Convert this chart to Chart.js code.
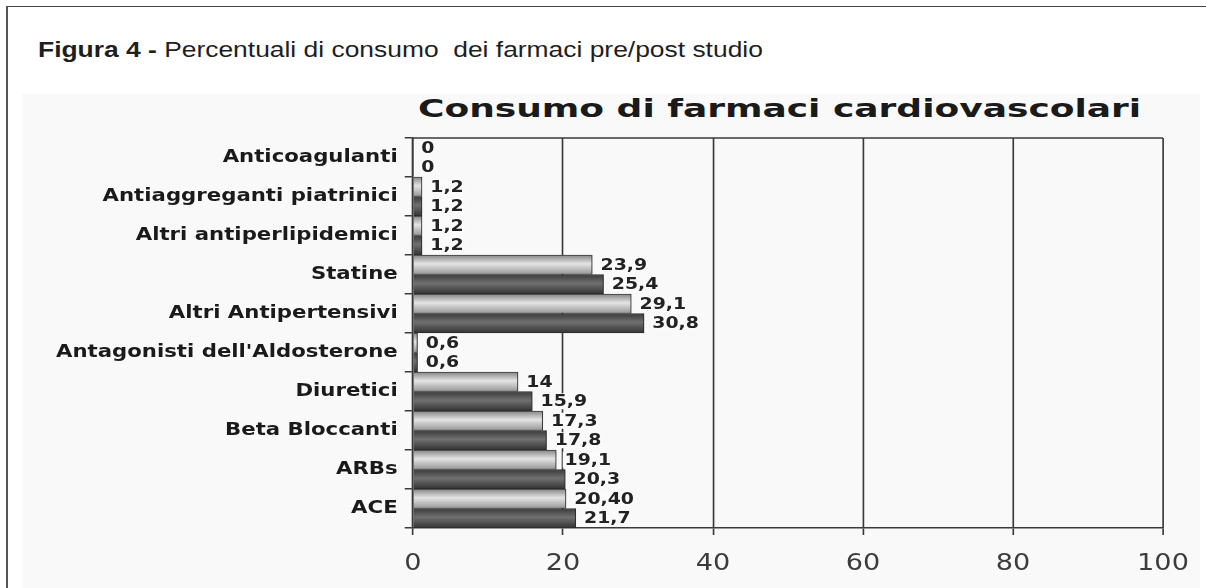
<!DOCTYPE html>
<html>
<head>
<meta charset="utf-8">
<title>Consumo di farmaci cardiovascolari</title>
<script src="https://cdn.jsdelivr.net/npm/chart.js@4.4.1/dist/chart.umd.min.js"></script>
<style>
  html, body { margin: 0; padding: 0; background: #fff; }
  body { width: 1206px; height: 588px; position: relative; overflow: hidden;
         font-family: "Liberation Sans", Arial, sans-serif; }
  #frame { position: absolute; left: 6px; top: 6px; width: 1400px; height: 800px;
           border-left: 2px solid #555; border-top: 1.5px solid #444; }
  #caption { position: absolute; left: 38px; top: 37px; font-size: 22px; color: #1e1e1e;
             white-space: pre; transform: scaleX(1.2); transform-origin: 0 0; }
  #panel { position: absolute; left: 22px; top: 94px; width: 1178px; height: 494px;
           background: #f9f9f9; }
  #title { position: absolute; left: 418px; top: 94px; font: bold 25px/1.164 "DejaVu Sans";
           color: #1a1a1a; white-space: nowrap; transform: scaleX(1.44); transform-origin: 0 0; }
  #chart { position: absolute; left: 0; top: 0; }
</style>
</head>
<body>
<div id="frame"></div>
<div id="caption"><b>Figura 4 -</b> Percentuali di consumo  dei farmaci pre/post studio</div>
<div id="panel"></div>
<div id="title">Consumo di farmaci cardiovascolari</div>
<canvas id="chart" width="1206" height="588"></canvas>
<script>
// Drug classes, listed top to bottom
const categories = [
  "Anticoagulanti",
  "Antiaggreganti piatrinici",
  "Altri antiperlipidemici",
  "Statine",
  "Altri Antipertensivi",
  "Antagonisti dell'Aldosterone",
  "Diuretici",
  "Beta Bloccanti",
  "ARBs",
  "ACE"
];
// Percentages as written on the labels (Italian decimal comma)
const preStudio  = ["0", "1,2", "1,2", "23,9", "29,1", "0,6", "14",   "17,3", "19,1", "20,40"];
const postStudio = ["0", "1,2", "1,2", "25,4", "30,8", "0,6", "15,9", "17,8", "20,3", "21,7"];
const xTicks = [0, 20, 40, 60, 80, 100];

const toNumber = s => parseFloat(s.replace(',', '.'));
const seriesText = [preStudio, postStudio];

// The whole chart is drawn with a wide horizontal stretch
const K = 1.18;
const CANVAS_W = 1206;
const PLOT_LEFT = 413, PLOT_RIGHT = 1163;

const LIGHT = [[0, '#858585'], [0.45, '#e4e4e4'], [1, '#959595']];
const DARK  = [[0, '#3a3a3a'], [0.45, '#707070'], [1, '#333333']];

// Cylinder-like vertical shading inside each bar
function barFill(stops) {
  return function (c) {
    const chart = c.chart;
    const y = chart.scales && chart.scales.y;
    if (c.type !== 'data' || !y || !y.height) return stops[1][1];
    const half = y.height / categories.length / 2;
    const center = y.getPixelForValue(c.dataIndex);
    const top = c.datasetIndex === 0 ? center - half : center;
    const g = chart.ctx.createLinearGradient(0, top, 0, top + half);
    stops.forEach(([o, col]) => g.addColorStop(o, col));
    return g;
  };
}

const stretch = {
  id: 'stretch',
  beforeDraw(chart) { chart.ctx.setTransform(K, 0, 0, 1, 0, 0); },
  afterDraw(chart) { chart.ctx.setTransform(1, 0, 0, 1, 0, 0); }
};

// Top edge of the plot frame
const plotFrame = {
  id: 'plotFrame',
  beforeDatasetsDraw(chart) {
    const { ctx, chartArea: a } = chart;
    ctx.save();
    ctx.strokeStyle = '#3a3a3a';
    ctx.lineWidth = 1.5;
    ctx.beginPath();
    ctx.moveTo(a.left, a.top);
    ctx.lineTo(a.right, a.top);
    ctx.stroke();
    ctx.restore();
  }
};

// Value labels to the right of each bar, on an opaque box
const valueLabels = {
  id: 'valueLabels',
  afterDatasetsDraw(chart) {
    const ctx = chart.ctx;
    ctx.save();
    ctx.font = 'bold 16px "DejaVu Sans"';
    ctx.textBaseline = 'middle';
    ctx.textAlign = 'left';
    chart.data.datasets.forEach((ds, di) => {
      chart.getDatasetMeta(di).data.forEach((bar, i) => {
        const text = seriesText[di][i];
        const x = bar.x + 7;
        const w = ctx.measureText(text).width;
        ctx.fillStyle = '#fafafa';
        ctx.fillRect(x - 1.5, bar.y - 8, w + 3, 16);
        ctx.fillStyle = '#222';
        ctx.fillText(text, x, bar.y + 1);
      });
    });
    ctx.restore();
  }
};

new Chart(document.getElementById('chart'), {
  type: 'bar',
  data: {
    labels: categories,
    datasets: [
      {
        label: 'Pre studio',
        data: preStudio.map(toNumber),
        backgroundColor: barFill(LIGHT),
        borderColor: '#3c3c3c',
        borderWidth: 1
      },
      {
        label: 'Post studio',
        data: postStudio.map(toNumber),
        backgroundColor: barFill(DARK),
        borderColor: '#2c2c2c',
        borderWidth: 1
      }
    ]
  },
  options: {
    indexAxis: 'y',
    responsive: false,
    animation: false,
    categoryPercentage: 1,
    barPercentage: 1,
    layout: { padding: { top: 138, right: CANVAS_W - PLOT_RIGHT / K, bottom: 0, left: 0 } },
    plugins: {
      legend: { display: false },
      tooltip: { enabled: false },
      title: { display: false }
    },
    scales: {
      x: {
        min: 0,
        max: 100,
        afterBuildTicks: axis => { axis.ticks = xTicks.map(v => ({ value: v })); },
        afterFit: s => { s.height = 60; },
        grid: { color: '#3a3a3a', lineWidth: 1.4, tickLength: 7, drawOnChartArea: true },
        border: { color: '#3a3a3a', width: 1.5 },
        ticks: { font: { family: 'DejaVu Sans', size: 23 }, color: '#3c3c3c', padding: 15, maxRotation: 0 }
      },
      y: {
        afterFit: s => { s.width = PLOT_LEFT / K; },
        grid: { offset: true, drawOnChartArea: false, color: '#3a3a3a', lineWidth: 1.5, tickLength: 7 },
        border: { color: '#3a3a3a', width: 1.4 },
        ticks: { font: { family: 'DejaVu Sans', size: 18, weight: 'bold' }, color: '#1a1a1a', padding: 6, autoSkip: false }
      }
    }
  },
  plugins: [stretch, plotFrame, valueLabels]
});
</script>
</body>
</html>
